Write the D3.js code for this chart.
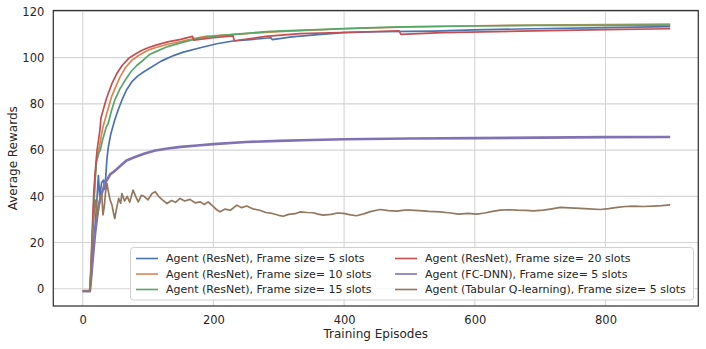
<!DOCTYPE html>
<html>
<head>
<meta charset="utf-8">
<script src="https://cdn.jsdelivr.net/npm/d3@7"></script>
<style>
  body { margin: 0; background: #fff; }
  text { font-family: "DejaVu Sans", sans-serif; fill: #262626; }
</style>
</head>
<body>
<svg id="chart" width="706" height="349"></svg>
<script>
// values: [episode, average reward]
var resnet5 = [[0,-1],[11,-1],[14,9],[18,24],[21,35],[24,49],[26,40],[29,46],[32,47],[34,43],[37,56],[39,61],[43,67],[49,73],[55,78],[60,81.6],[67,86],[75,89.5],[84,92],[93,93.8],[103,95.5],[120,98.5],[140,101],[154,102.4],[180,104.3],[205,106],[230,107.2],[256,107.8],[288,108.6],[290,107.8],[320,109],[360,110],[399,110.8],[450,111.2],[500,111.4],[536,111.5],[600,112],[690,112.5],[800,113],[899,113.4]];
var resnet10 = [[0,-1],[11,-1],[13,8],[15,25],[17,38],[19,48],[21,55],[23,58],[26,62],[29,67],[31,70],[34,73],[39,78],[44,83],[50,87],[57,91.6],[65,95.5],[75,98.8],[85,100.8],[95,102.4],[103,103.6],[111,104.3],[130,105.8],[150,107],[170,108.3],[190,109.3],[200,109.4],[250,110.4],[300,111.3],[400,112.5],[500,113.3],[600,113.8],[700,114.1],[800,114.3],[899,114.5]];
var resnet15 = [[0,-1],[11,-1],[13,6],[15,22],[17,35],[19,47],[21,55],[23,57],[25,59],[27,60],[30,64],[33,67],[36,70],[39,71.5],[44,77],[49,81.6],[57,86.5],[65,90.2],[74,94],[83,96.7],[93,99],[103,101.5],[111,102.5],[130,104.8],[154,106.7],[180,108.5],[205,109.4],[250,110.5],[282,111.3],[307,111.6],[350,112],[409,112.7],[486,113.3],[600,113.7],[690,114],[800,114],[899,114.1]];
var resnet20 = [[0,-1],[11,-1],[13,10],[15,28],[17,42],[19,50],[21,57],[22,60],[24,64],[26,68],[28,74],[32,78],[36,82],[39,84.4],[45,89],[52,93],[60,96.5],[70,99.6],[80,101.5],[90,103.1],[100,104.3],[111,105.3],[130,106.8],[150,107.9],[168,109.2],[170,107.6],[200,108.6],[230,109.4],[232,107.3],[280,109.2],[333,110.4],[409,111],[484,111.6],[487,110.1],[550,110.8],[690,111.6],[800,112.1],[899,112.5]];
var fcdnn5 = [[0,-1],[11,-1],[13,5],[16,15],[19,24],[22,31],[24,35.5],[27,39],[30,42],[34,45.6],[38,47.5],[42,49.5],[49,51],[57,53],[67,55.5],[80,57],[95,58.5],[111,59.8],[130,60.7],[150,61.4],[175,62],[200,62.6],[250,63.5],[300,64],[350,64.4],[400,64.7],[500,65],[600,65.2],[700,65.4],[800,65.6],[899,65.7]];
var tabular5 = [[0,-1],[11,-1],[14,20],[16,28],[18,35],[20,38.4],[22,31],[24,34],[27,40],[29,41.2],[31,32],[33,35.5],[35,42],[37,45.6],[40,41],[42,38.4],[45,36],[47,33],[49,30.4],[52,35],[55,39.1],[58,37],[60,41.2],[64,38],[68,40],[72,37.5],[77,42.7],[81,40],[85,37.6],[90,40.5],[95,39.8],[100,38.5],[106,41.2],[111,42],[116,40],[122,38.5],[129,36.9],[136,38.2],[142,37.4],[149,39.1],[156,38],[164,38.7],[172,37.2],[180,37.6],[186,36.5],[192,37.6],[200,35.5],[205,34.2],[210,33.3],[218,34.5],[226,34],[236,36.2],[243,35.1],[251,35.8],[260,34.6],[271,34],[280,33],[290,32.6],[300,31.8],[307,31.4],[315,32.2],[325,32.5],[333,33.3],[343,33],[353,32.9],[360,32.3],[368,31.9],[380,32.2],[390,32.8],[399,32.6],[410,32],[419,31.6],[430,32.4],[440,33.4],[455,34.3],[468,33.8],[481,33.6],[492,34],[501,34],[515,33.8],[530,33.5],[547,33.3],[560,32.9],[575,32.3],[590,32.6],[603,32.3],[615,32.8],[627,33.5],[639,34],[652,34.2],[665,34],[678,33.9],[690,33.7],[705,34],[718,34.6],[731,35.2],[745,35],[761,34.8],[775,34.6],[792,34.3],[805,34.7],[818,35.2],[830,35.6],[843,35.8],[858,35.6],[873,35.8],[886,36],[899,36.3]];

var seriesNames = [
  "Agent (ResNet), Frame size= 5 slots",
  "Agent (ResNet), Frame size= 10 slots",
  "Agent (ResNet), Frame size= 15 slots",
  "Agent (ResNet), Frame size= 20 slots",
  "Agent (FC-DNN), Frame size= 5 slots",
  "Agent (Tabular Q-learning), Frame size= 5 slots"
];
var seriesData = [resnet5, resnet10, resnet15, resnet20, fcdnn5, tabular5];
var colors = ["#4c72b0", "#dd8452", "#55a868", "#c44e52", "#8172b3", "#937860"];
var xTicks = [0, 200, 400, 600, 800];
var yTicks = [0, 20, 40, 60, 80, 100, 120];

var svg = d3.select("#chart");
var pLeft = 53.3, pRight = 698.3, pTop = 10.5, pBottom = 306;

var x = d3.scaleLinear().domain([-45, 942]).range([pLeft, pRight]);
var y = d3.scaleLinear().domain([-7.44, 120.4]).range([pBottom, pTop]);

// grid
svg.append("g").selectAll("line").data(xTicks).enter().append("line")
    .attr("x1", function(d) { return x(d); }).attr("x2", function(d) { return x(d); })
    .attr("y1", pTop).attr("y2", pBottom)
    .attr("stroke", "#d5d5d5").attr("stroke-width", 1.1);
svg.append("g").selectAll("line").data(yTicks).enter().append("line")
    .attr("x1", pLeft).attr("x2", pRight)
    .attr("y1", function(d) { return y(d); }).attr("y2", function(d) { return y(d); })
    .attr("stroke", "#d5d5d5").attr("stroke-width", 1.1);

// lines
var line = d3.line()
    .x(function(d) { return x(d[0]); })
    .y(function(d) { return y(d[1]); });

svg.append("g").selectAll("path").data(seriesData).enter().append("path")
    .attr("d", line)
    .attr("fill", "none")
    .attr("stroke", function(d, i) { return colors[i]; })
    .attr("stroke-width", function(d, i) { return i == 4 ? 2.6 : 1.7; })
    .attr("stroke-linejoin", "round");

// axes (labels only, no tick marks)
var xAxis = svg.append("g")
    .attr("transform", "translate(0," + pBottom + ")")
    .call(d3.axisBottom(x).tickValues(xTicks).tickSize(0).tickPadding(9.5));
var yAxis = svg.append("g")
    .attr("transform", "translate(" + pLeft + ",0)")
    .call(d3.axisLeft(y).tickValues(yTicks).tickSize(0).tickPadding(9));
[xAxis, yAxis].forEach(function(a) {
  a.select(".domain").remove();
  a.selectAll("text").style("font-size", "11.5px").style("font-family", "DejaVu Sans").attr("fill", "#262626");
});

// frame
svg.append("rect")
    .attr("x", pLeft).attr("y", pTop)
    .attr("width", pRight - pLeft).attr("height", pBottom - pTop)
    .attr("fill", "none").attr("stroke", "#333").attr("stroke-width", 1.25);

svg.append("text")
    .attr("x", (pLeft + pRight) / 2).attr("y", 338)
    .attr("text-anchor", "middle")
    .style("font-size", "12px")
    .text("Training Episodes");
svg.append("text")
    .attr("transform", "translate(17," + ((pTop + pBottom) / 2) + ") rotate(-90)")
    .attr("text-anchor", "middle")
    .style("font-size", "12px")
    .text("Average Rewards");

// legend
var legend = svg.append("g");
legend.append("rect")
    .attr("x", 130.5).attr("y", 247.5)
    .attr("width", 563).attr("height", 52.5)
    .attr("rx", 3)
    .attr("fill", "white").attr("fill-opacity", 0.8)
    .attr("stroke", "#d0d0d0");
var item = legend.selectAll(".item").data(seriesNames).enter().append("g")
    .attr("class", "item")
    .attr("transform", function(d, i) {
      return "translate(" + (i < 3 ? 136 : 395) + "," + (258.5 + (i % 3) * 15.5) + ")";
    });
item.append("line")
    .attr("x1", 0).attr("x2", 22)
    .attr("stroke", function(d, i) { return colors[i]; })
    .attr("stroke-width", 1.6);
item.append("text")
    .attr("x", 30).attr("dy", "0.35em")
    .style("font-size", "11px")
    .text(function(d) { return d; });
</script>
</body>
</html>
